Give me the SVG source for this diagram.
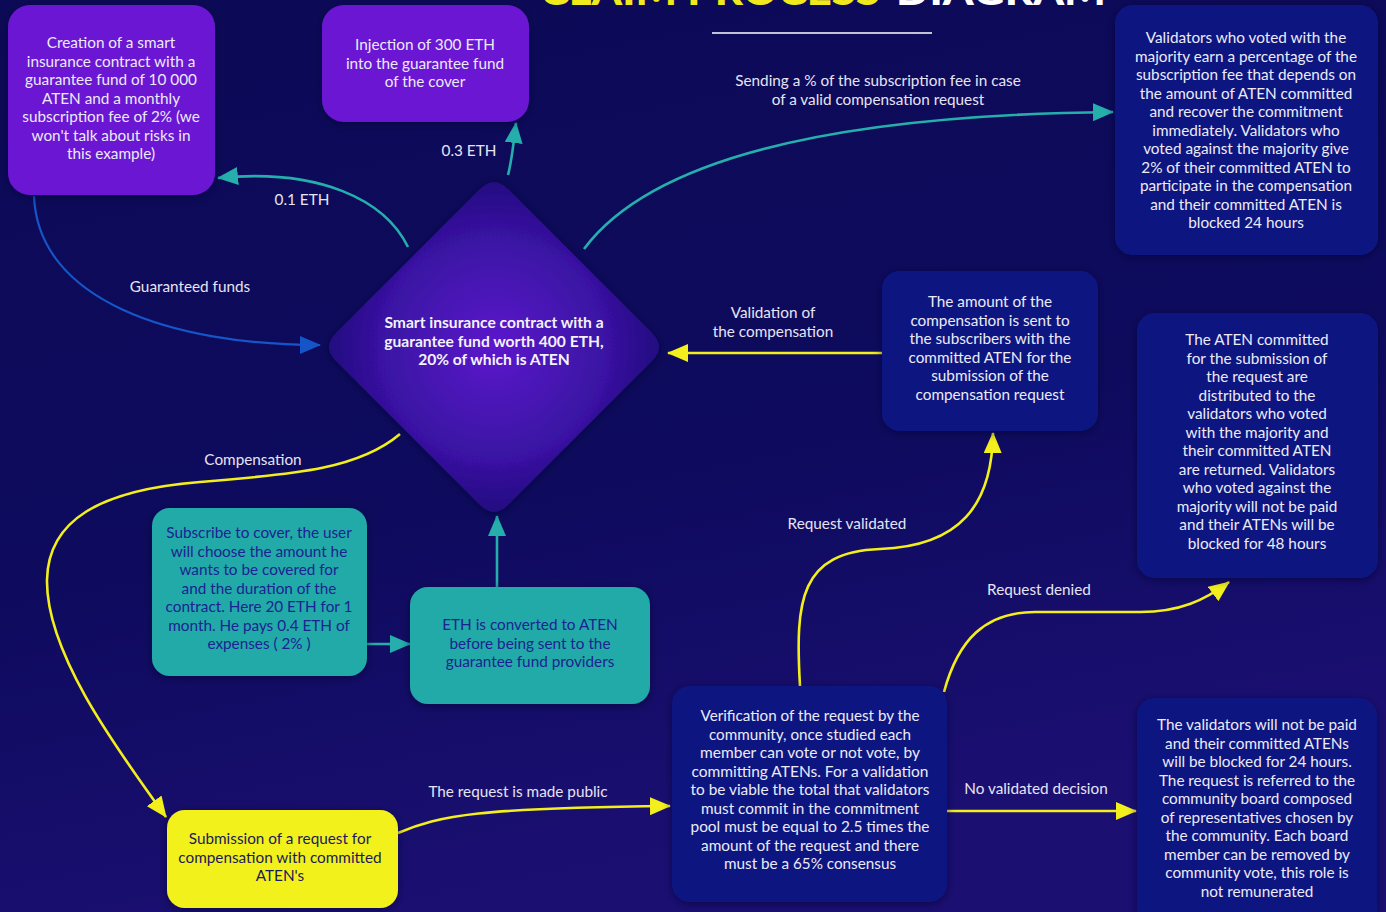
<svg xmlns="http://www.w3.org/2000/svg" width="1386" height="912" viewBox="0 0 1386 912">
<defs>
<linearGradient id="bg" x1="0" y1="0" x2="0.3" y2="1">
<stop offset="0" stop-color="#0c0a56"/>
<stop offset="0.6" stop-color="#0e0b5e"/>
<stop offset="1" stop-color="#1b0f72"/>
</linearGradient>
<radialGradient id="dia" cx="0.5" cy="0.5" r="0.6">
<stop offset="0" stop-color="#5c19cc"/>
<stop offset="0.55" stop-color="#3a12a4"/>
<stop offset="1" stop-color="#160c6c"/>
</radialGradient>
<filter id="sh" x="-10%" y="-10%" width="120%" height="120%">
<feDropShadow dx="0" dy="2" stdDeviation="4" flood-color="#050330" flood-opacity="0.6"/>
</filter>
<marker id="aT" markerUnits="userSpaceOnUse" markerWidth="22" markerHeight="18" refX="20" refY="9" orient="auto"><path d="M0,0 L21,9 L0,18 z" fill="#25aeac"/></marker>
<marker id="aY" markerUnits="userSpaceOnUse" markerWidth="22" markerHeight="18" refX="20" refY="9" orient="auto"><path d="M0,0 L21,9 L0,18 z" fill="#f2ef1c"/></marker>
<marker id="aB" markerUnits="userSpaceOnUse" markerWidth="22" markerHeight="18" refX="20" refY="9" orient="auto"><path d="M0,0 L21,9 L0,18 z" fill="#1655c8"/></marker>
<style>
.t{font-family:Lato,"Noto Sans","Liberation Sans",sans-serif;font-size:15.3px;text-anchor:middle}
.w{fill:#eceaf6}
.d{fill:#1b2391}
.n{fill:#1a1a5a}
.b{font-weight:bold;fill:#f4f2fb;font-size:15.6px}
.lbl{font-family:Lato,"Noto Sans","Liberation Sans",sans-serif;font-size:15.3px;text-anchor:middle;fill:#e6e4f2}
.purple{fill:#6a18d2}
.navy{fill:#0d1680}
.teal{fill:#22aaa9}
.yel{fill:#f3f11f}
.cT{fill:none;stroke:#25aeac;stroke-width:2.6}
.cY{fill:none;stroke:#f2ef1c;stroke-width:2.6}
.cB{fill:none;stroke:#1655c8;stroke-width:2.2}
</style>
</defs>
<rect x="0" y="0" width="1386" height="912" fill="url(#bg)"/>

<g id="title">
<text x="540" y="5" font-family="Lato,'Liberation Sans',sans-serif" font-weight="900" font-size="40" fill="#f0ea1c" textLength="340" lengthAdjust="spacingAndGlyphs">CLAIM PROCESS</text>
<text x="896" y="5" font-family="Lato,'Liberation Sans',sans-serif" font-weight="900" font-size="40" fill="#ffffff" textLength="210" lengthAdjust="spacingAndGlyphs">DIAGRAM</text>
<line x1="712" y1="33" x2="932" y2="33" stroke="#ffffff" stroke-width="1.6"/>
</g>

<g id="connectors">
<path class="cT" d="M408,247 C385,200 320,168 218,178" marker-end="url(#aT)"/>
<path class="cT" d="M508,175 C512,160 514,140 516,123" marker-end="url(#aT)"/>
<path class="cT" d="M584,249 C650,160 830,115 1113,112" marker-end="url(#aT)"/>
<path class="cB" d="M34,196 C38,300 170,345 320,345" marker-end="url(#aB)"/>
<path class="cY" d="M882,353 L668,353" marker-end="url(#aY)"/>
<path class="cY" d="M400,434 C360,468 300,474 200,482 C100,490 48,520 47,580 C46,650 110,740 166,817" marker-end="url(#aY)"/>
<path class="cT" d="M367,644 L410,644" marker-end="url(#aT)"/>
<path class="cT" d="M497,587 L497,516" marker-end="url(#aT)"/>
<path class="cY" d="M398,833 C440,815 480,808 670,806" marker-end="url(#aY)"/>
<path class="cY" d="M800,686 C795,600 800,552 880,549 C960,546 992,505 993,433" marker-end="url(#aY)"/>
<path class="cY" d="M944,692 C958,640 985,612 1035,612 L1140,612 C1180,612 1205,600 1229,582" marker-end="url(#aY)"/>
<path class="cY" d="M947,811 L1136,811" marker-end="url(#aY)"/>
<text class="lbl" x="302" y="205">0.1 ETH</text>
<text class="lbl" x="469" y="156">0.3 ETH</text>
<text class="lbl" x="878" y="86">Sending a % of the subscription fee in case</text>
<text class="lbl" x="878" y="105">of a valid compensation request</text>
<text class="lbl" x="190" y="292">Guaranteed funds</text>
<text class="lbl" x="773" y="318">Validation of</text>
<text class="lbl" x="773" y="337">the compensation</text>
<text class="lbl" x="253" y="465">Compensation</text>
<text class="lbl" x="518" y="797">The request is made public</text>
<text class="lbl" x="847" y="529">Request validated</text>
<text class="lbl" x="1039" y="595">Request denied</text>
<text class="lbl" x="1036" y="794">No validated decision</text>
</g>

<g id="creation">
<rect class="purple" x="8" y="5" width="207" height="190" rx="22" filter="url(#sh)"/>
<text class="t w" x="111" y="48">Creation of a smart</text>
<text class="t w" x="111" y="66.5">insurance contract with a</text>
<text class="t w" x="111" y="85">guarantee fund of 10 000</text>
<text class="t w" x="111" y="103.5">ATEN and a monthly</text>
<text class="t w" x="111" y="122">subscription fee of 2% (we</text>
<text class="t w" x="111" y="140.5">won't talk about risks in</text>
<text class="t w" x="111" y="159">this example)</text>
</g>

<g id="injection">
<rect class="purple" x="322" y="5" width="207" height="117" rx="22" filter="url(#sh)"/>
<text class="t w" x="425" y="50">Injection of 300 ETH</text>
<text class="t w" x="425" y="68.5">into the guarantee fund</text>
<text class="t w" x="425" y="87">of the cover</text>
</g>

<g id="validators-majority">
<rect class="navy" x="1115" y="5" width="263" height="250" rx="18" filter="url(#sh)"/>
<text class="t w" x="1246" y="43">Validators who voted with the</text>
<text class="t w" x="1246" y="61.5">majority earn a percentage of the</text>
<text class="t w" x="1246" y="80">subscription fee that depends on</text>
<text class="t w" x="1246" y="98.5">the amount of ATEN committed</text>
<text class="t w" x="1246" y="117">and recover the commitment</text>
<text class="t w" x="1246" y="135.5">immediately.  Validators who</text>
<text class="t w" x="1246" y="154">voted against the majority give</text>
<text class="t w" x="1246" y="172.5">2% of their committed ATEN to</text>
<text class="t w" x="1246" y="191">participate in the compensation</text>
<text class="t w" x="1246" y="209.5">and their committed ATEN is</text>
<text class="t w" x="1246" y="228">blocked 24 hours</text>
</g>

<g id="smart-contract">
<path d="M480,189 Q494,175 508,189 L652,333 Q666,347 652,361 L508,505 Q494,519 480,505 L336,361 Q322,347 336,333 Z" fill="url(#dia)" filter="url(#sh)"/>
<text class="t b" x="494" y="328">Smart insurance contract with a</text>
<text class="t b" x="494" y="346.5">guarantee fund worth 400 ETH,</text>
<text class="t b" x="494" y="365">20% of which is ATEN</text>
</g>

<g id="compensation-sent">
<rect class="navy" x="882" y="271" width="216" height="160" rx="18" filter="url(#sh)"/>
<text class="t w" x="990" y="307">The amount of the</text>
<text class="t w" x="990" y="325.5">compensation is sent to</text>
<text class="t w" x="990" y="344">the subscribers with the</text>
<text class="t w" x="990" y="362.5">committed ATEN for the</text>
<text class="t w" x="990" y="381">submission of the</text>
<text class="t w" x="990" y="399.5">compensation request</text>
</g>

<g id="aten-distributed">
<rect class="navy" x="1137" y="313" width="241" height="265" rx="18" filter="url(#sh)"/>
<text class="t w" x="1257" y="345">The ATEN committed</text>
<text class="t w" x="1257" y="363.5">for the submission of</text>
<text class="t w" x="1257" y="382">the request are</text>
<text class="t w" x="1257" y="400.5">distributed to the</text>
<text class="t w" x="1257" y="419">validators who voted</text>
<text class="t w" x="1257" y="437.5">with the majority and</text>
<text class="t w" x="1257" y="456">their committed ATEN</text>
<text class="t w" x="1257" y="474.5">are returned. Validators</text>
<text class="t w" x="1257" y="493">who voted against the</text>
<text class="t w" x="1257" y="511.5">majority will not be paid</text>
<text class="t w" x="1257" y="530">and their ATENs will be</text>
<text class="t w" x="1257" y="548.5">blocked for 48 hours</text>
</g>

<g id="subscribe">
<rect class="teal" x="152" y="508" width="215" height="168" rx="18" filter="url(#sh)"/>
<text class="t d" x="259" y="538">Subscribe to cover, the user</text>
<text class="t d" x="259" y="556.5">will choose the amount he</text>
<text class="t d" x="259" y="575">wants to be covered for</text>
<text class="t d" x="259" y="593.5">and the duration of the</text>
<text class="t d" x="259" y="612">contract. Here 20 ETH for 1</text>
<text class="t d" x="259" y="630.5">month. He pays 0.4 ETH of</text>
<text class="t d" x="259" y="649">expenses ( 2% )</text>
</g>

<g id="eth-converted">
<rect class="teal" x="410" y="587" width="240" height="117" rx="18" filter="url(#sh)"/>
<text class="t d" x="530" y="630">ETH is converted to ATEN</text>
<text class="t d" x="530" y="648.5">before being sent to the</text>
<text class="t d" x="530" y="667">guarantee fund providers</text>
</g>

<g id="submission">
<rect class="yel" x="167" y="810" width="231" height="98" rx="18" filter="url(#sh)"/>
<text class="t n" x="280" y="844">Submission of a request for</text>
<text class="t n" x="280" y="862.5">compensation with committed</text>
<text class="t n" x="280" y="881">ATEN's</text>
</g>

<g id="verification">
<rect class="navy" x="672" y="686" width="275" height="216" rx="18" filter="url(#sh)"/>
<text class="t w" x="810" y="721" textLength="219" lengthAdjust="spacingAndGlyphs">Verification of the request by the</text>
<text class="t w" x="810" y="739.5" textLength="202" lengthAdjust="spacingAndGlyphs">community, once studied each</text>
<text class="t w" x="810" y="758" textLength="220" lengthAdjust="spacingAndGlyphs">member can vote or not vote, by</text>
<text class="t w" x="810" y="776.5" textLength="237" lengthAdjust="spacingAndGlyphs">committing ATENs. For a validation</text>
<text class="t w" x="810" y="795" textLength="239" lengthAdjust="spacingAndGlyphs">to be viable the total that validators</text>
<text class="t w" x="810" y="813.5" textLength="218" lengthAdjust="spacingAndGlyphs">must commit in the commitment</text>
<text class="t w" x="810" y="832" textLength="239" lengthAdjust="spacingAndGlyphs">pool must be equal to 2.5 times the</text>
<text class="t w" x="810" y="850.5" textLength="218" lengthAdjust="spacingAndGlyphs">amount of the request and there</text>
<text class="t w" x="810" y="869" textLength="172" lengthAdjust="spacingAndGlyphs">must be a 65% consensus</text>
</g>

<g id="no-decision">
<rect class="navy" x="1137" y="698" width="240" height="230" rx="18" filter="url(#sh)"/>
<text class="t w" x="1257" y="730">The validators will not be paid</text>
<text class="t w" x="1257" y="748.5">and their committed ATENs</text>
<text class="t w" x="1257" y="767">will be blocked for 24 hours.</text>
<text class="t w" x="1257" y="785.5">The request is referred to the</text>
<text class="t w" x="1257" y="804">community board composed</text>
<text class="t w" x="1257" y="822.5">of representatives chosen by</text>
<text class="t w" x="1257" y="841">the community. Each board</text>
<text class="t w" x="1257" y="859.5">member can be removed by</text>
<text class="t w" x="1257" y="878">community vote, this role is</text>
<text class="t w" x="1257" y="896.5">not remunerated</text>
</g>
</svg>
